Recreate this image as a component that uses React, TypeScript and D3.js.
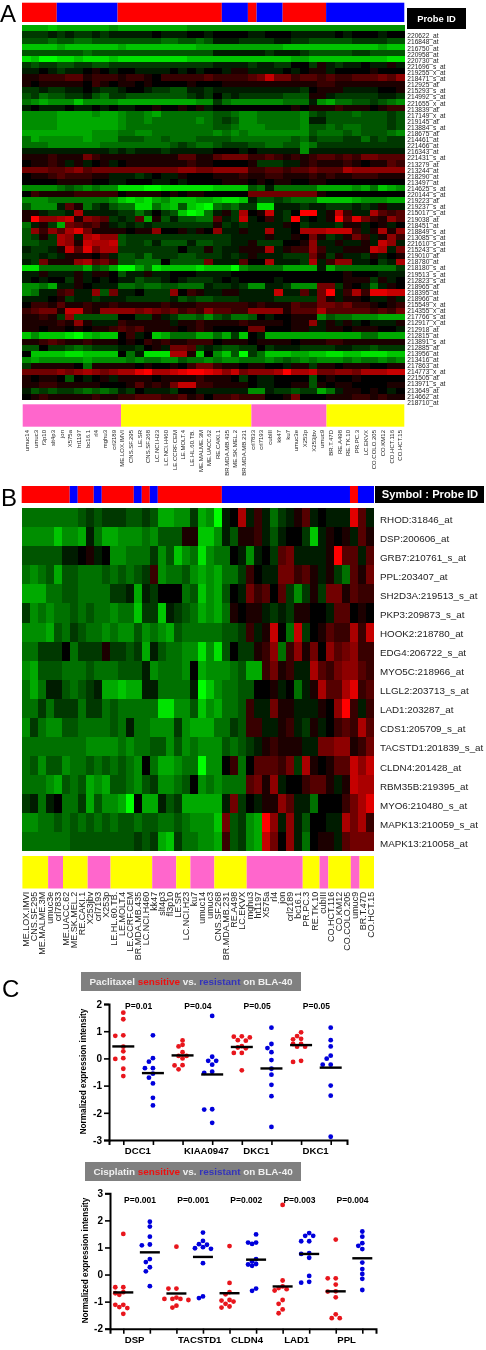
import React, { useEffect, useRef } from 'react';
import * as d3 from 'd3';

// heat map cells: a..i = green level 1..9, 0 = black, A..I = red level 1..9
// one string per row, split in four groups of 11 columns
const probesA = ['220622_at','216848_at','216750_at','220958_at','220730_at','221696_s_at','219255_x_at','218471_s_at','212925_at','215293_s_at','214992_s_at','221655_x_at','213839_at','217149_x_at','219145_at','213884_s_at','218675_at','214461_at','221466_at','216343_at','221431_s_at','213279_at','213244_at','218290_at','213497_at','214625_s_at','220144_s_at','219223_at','219237_s_at','215017_s_at','219038_at','218451_at','218849_s_at','213085_s_at','221610_s_at','215243_s_at','219010_at','218780_at','218180_s_at','219513_s_at','212823_s_at','218965_at','218395_at','218966_at','215549_x_at','214355_x_at','217766_s_at','212917_x_at','212918_at','212815_at','213891_s_at','212885_at','213956_at','213416_at','217863_at','214773_x_at','221505_at','213971_s_at','213649_at','214662_at','218710_at'];

const heatA = [
  'fffgffffffe ffffffffeee eeeeeeeeeee eeeeeeeeeee',
  'bbbababbaba aaaa0aaa00a 0000aa000aa aaa0a000a00',
  'cccdccddccc cccccddccdc aaabbbbaabb cccccbbbbcc',
  'ggggfgggggg fggggggggff ffffffffggg ggggggggfgg',
  'cccccccdccc ccccccccccc aaaaaabaaab cccccbbcccc',
  'hgiihhghhhg hhhhhhhhggg gggggggggff ggggggggghh',
  'bcbbccbbccb bbbbbbbbbbb aaaabaabb00 bAabaa0aaAa',
  'aa0abaa0A0a 00aaaa0a0a0 0aAAaaaa0a0 AAa0000A000',
  'AABBBCCABBB ABBA0BBBBBC BBBBCDGDDBC CBCBBCCCDCE',
  'A0AAAAA0BA0 AA0A0000A00 0AAAAAAAAAA ABBAAAAAAAA',
  'bbabbaa0abb a00abbccaab aaaaaaaaaab 0AAAaaaa00A',
  'cbdccbbacdb bcccccccbab 0babbbbbccc AAabbbbbaab',
  'defeeegeeee fffffffffee bdeeeeeeddd aefddccbcde',
  'a0aaa0aa0a0 aa00A00A0Aa 000000000A0 AAABAAA0ABB',
  'eeeeffffeff eddefdddddd ccdeeddddde cbcccdcccbc',
  'eeeefffffff eddeddddded cbceeddddde aacccccccbc',
  'eeeefffffff edddddddddd ccdeeedddde ccdcddcccbc',
  'ffffffffeee ddeeddddddd ededeeeeeee cdddcdcccde',
  'dfeeeeefeee cccddcdddcc ccdddddddcd bcccbbdbcbb',
  'dddeeeeeedd ddddddcbcdd cbbbccddcce dbbbbbbbbbb',
  'aaaaaaaaaab abaaabaaaaa 000a0aaaaae aaaaaaaaaaa',
  'AAABAAADBAA AAAAAAACCAA CDDDBBCBABA BCCBCBDDCCC',
  '0AABAaAa0Aa 0AAAAAAABAA 0000AbbbaaA BAAABA0AACB',
  'DDDCCDECDDD DDDDDDDEEDD EEEEBBCCBCC DCCCFEEEEEE',
  '0AABCBBBAAa aaba0aaA000 AAABAABBAAA BABAABBBAAA',
  '0000AAAA00a a000aa0a000 0AAA0A0AA00 AA000000000',
  'eeeedcdedee hhhiihhhhhh ggggcdadddd dffffefdgfe',
  '0BAAAABBBBB 0AAAA0A0AA0 0000DDDDDDD DA000000000',
  'eeeddddddde ghghfegggff ghhgaccbcdd dggggfeeeff',
  'ceeeaCAdbac ddhhdfgcghi dcdbbhhaaab aabbbabaAaa',
  'AAabbaFaaaa bbdb0bcgihd aAbF0AGab0I IaAGBaaFCBC',
  'AIEEFGAEDCb abCfAcaccdd CabGa0BabIa 0aAICHDBAEC',
  'daAbfDCBCAa bababbbbbbb AbabaaaaA0b aaabAAa0Aa0',
  'cEBECFHDAAA A0AAE00AaA0 EaaAaaFaa0F FFGGGBaAFAE',
  'cbAbFEaFGEE cbbbbbbbbbb bbaaaaAaaA0 DAbaADBaAEB',
  'ccbbFEAGFFG cbbcacccacc bbaaAbbb00A EaaAaaAaGEa',
  'abbaAGCHDFF bbbbbbb0bbA baaAAAFaABB EBaaAAAGFaD',
  'bbabaAAA0Ba ccbdbbbccbb babaAaaabbb DAbAaabAa0A',
  'abDAAAEFCDB ccddd0ccccD aaaC00Faaab FaBEEaa0baF',
  'hhdddddfcdf iifdhgggghg ggieddddfff fafdddddddb',
  'aaAaaaAaAA0 caaAaa000aa aa000000000 0000A000aaa',
  'a0a00bAa0a0 aacbba0abbb a0a0000a000 0000AAAbAa0',
  'eedfaaA0aaa ddcddccddda bbabeeaabee eDDbA0adaA0',
  'edaaBCaaEcD aa0bbbE0BAa aAAaaaaGaaC aDIaBFBHHGG',
  'aaa0Abaabaa abbbbbacbcc bbbaaaabbbb bDAaAA0aaAa',
  '0BBACAABAAB AAAAABAAABB BBBBABAAACB BDDCDBBA0AB',
  'BCDDAGGBAEE EEDEDCDBCBE CCBBEEEEACC CFCCCCCBCBD',
  'AABAbEccccc 00bbAabddce cbddc0a00AA Aecddeeefff',
  'AAAABAEAaaa BAAAAAaAABA AAABAAAA0AA EaAaAa0aaaA',
  'AA0AA0A0AAB CBCAAAA0ABA 0000DD000AA aaAA0AAA00a',
  'geggghigfgg 0Ba0gfdddff dfbg0afffff ffffffddfff',
  'AABCBAABAAA 0A0BABAABBB 0AAA0AAAA0A AABBAAAAAAA',
  'cc0bbcdcbbb aab0AaDDCba bccbb0baaab bbbaabbcbbb',
  '0gggghhgggg 0dahhhFFAg0 egcibdgggff gghhgghhhgg',
  'efeeeeefeee ededdeecdde deedddedcde deeededdede',
  'bAAAAA0dAAA AA0A00A0BDD BAA0AA00aAA bAA0AAA00AA',
  'DDDDEDEFEDE FFHIFFGHIIH GEGDEEEFIFF GDDEEDFFFGG',
  'A0AA0c0a0Aa AAAA0AAAABA AA0b0aa0000 c0A00A00000',
  'AABBAAAAA00 0ACABADGGBB AAAA0aa00AA cA0AA0000AA',
  'acbcbbcdcdc ab0aaab00aa aaaaeeabbcb bfdaAA0A0a0',
  '0ABAAAAABAA BBCCCBBCAB0 BBCBBB00AD0 00AAABBABAA',
];

const samplesA = ['umuc14','umuc3','f3p10','slt4p3','jon','X575a','ht1197','bc16.1','rl4','mghu3','crl2189','ME.LOX.IMVI','CNS.SF.295','LE.SR','CNS.SF.268','LC.NCI.H23','LC.NCI.H460','LE.CCRF.CEM','LE.MOLT.4','LE.HL.60.TB.','ME.MALME.3M','ME.UACC.62','RE.CAKI.1','BR.MDA.MB.435','ME.SK.MEL.2','BR.MDA.MB.231','crl7833','crl7193','cubIII','kk47','ku7','umuc3e','X253p','X253jbv','umuc9','BR.T.47D','RE.A498','RE.TK.10','PR.PC.3','LC.EKVX','CO.COLO.205','CO.KM12','CO.HCT.116','CO.HCT.15'];
const topRunsA = [4, 7, 12, 3, 1, 3, 5, 9];
const typeEdgesA = [0, 11.4, 26.4, 35.05, 44];

const probesB = ['RHOD:31846_at','DSP:200606_at','GRB7:210761_s_at','PPL:203407_at','SH2D3A:219513_s_at','PKP3:209873_s_at','HOOK2:218780_at','EDG4:206722_s_at','MYO5C:218966_at','LLGL2:203713_s_at','LAD1:203287_at','CDS1:205709_s_at','TACSTD1:201839_s_at','CLDN4:201428_at','RBM35B:219395_at','MYO6:210480_s_at','MAPK13:210059_s_at','MAPK13:210058_at'];

const heatB = [
  'dddddddcbcb bbccbcffeeb feia0FaBadb aACa0aaaHCa',
  'eeeegeefadf feeedecccAA ggeacAABaca 00bgaA0AaCA',
  'cccccaa0Aa0 eedddbecged hedd0aea0bC DaaaaAICCaC',
  'dedcfccdddc dcdcbBeddce fefddbB0aaD DBCAaAbdCAD',
  'fffddccdddd bbafab000dc gefc0aDBC0C bebAbDDACBB',
  'bededdcdcdd eddgbbgabcd fefdA0AAaba bAA00aCC0A0',
  'eeefcdbcdde deecedefcdd dddccbBaAG0 dGb0ACBBFBG',
  'ddbbb0dbbbA bbcbfacddee hehc0bbABEd BEAD0ECDEBB',
  'efcccdddcdd dcccaeddde0 feeedcffBDA BaaFCBDEECB',
  'dfdaacdcbaf fgffaadddda igeddcc00Aa 0daAFCCFHBC',
  'ddbdbbbdbbd cdddddhheec gefddcBaaDA AaaaA0EIBaB',
  'ebdeeccdddd cdaddeeebef ffddbcBBaaA BabAa0BCBFC',
  'ddddddddeee ededdcceced eeecdcbaABA AAaaDDEEABD',
  'dcecceddcdc dcde0dffedd iee0Bd0CCCB DbFA0ACCGEG',
  'dddefcdcfef ccdecbeedc0 ededddCDAEa 00BCCAaAGFF',
  'bada0ddbfce efi0ffacbff fffaDb0aAAE Caad000BDFH',
  'eeddcdcdcdc dccdccddcde eegDcbefIEa Eac00aaFDFB',
  'ddddddccccc cccbcbfgbdd eefBcbefGD0 Ead0AAaCDDD',
];

const samplesB = ['ME.LOX.IMVI','CNS.SF.295','ME.MALME.3M','umuc3e','crl7833','ME.UACC.62','ME.SK.MEL.2','RE.CAKI.1','X253jbv','crl7193','X253p','LE.HL.60.TB.','LE.MOLT.4','LE.CCRF.CEM','BR.MDA.MB.435','LC.NCI.H460','kk47','slt4p3','fl3p10','LE.SR','LC.NCI.H23','ku7','umuc14','umuc3','CNS.SF.268','BR.MDA.MB.231','RE.A498','LC.EKVX','mghu3','ht1197','X575a','rl4','jon','crl2189','bc16.1','PR.PC.3','RE.TK.10','cubIII','CO.HCT.116','CO.KM12','CO.COLO.205','umuc9','BR.T.47D','CO.HCT.15'];
const topRunsB = [6, 1, 2, 1, 4, 1, 1, 1, 8, 16, 1, 2];
const typeEdgesB = [0, 3.3, 5.16, 8.24, 11.1, 16.3, 19.3, 21.07, 24.06, 28.1, 35.1, 37.2, 38.3, 41.1, 42.2, 44];

// panel C, paclitaxel: pairs of sensitive / resistant columns
const genesP = ['DCC1', 'KIAA0947', 'DKC1', 'DKC1'];
const pValuesP = ['P=0.01', 'P=0.04', 'P=0.05', 'P=0.05'];
const valuesP = [
  [1.68, 1.44, 0.85, 0.83, 0.43, 0.26, 0.01, -0.02, -0.38, -0.65],
  [0.85, 0.01, -0.12, -0.36, -0.36, -0.56, -0.71, -0.92, -1.45, -1.73],
  [0.66, 0.5, 0.44, 0.23, 0.09, 0.09, 0, -0.25, -0.26, -0.4],
  [1.56, 0.06, -0.09, -0.09, -0.23, -0.49, -0.53, -1.87, -1.88, -2.37],
  [0.81, 0.8, 0.77, 0.67, 0.65, 0.45, 0.4, 0.37, 0.2, 0.2, -0.44],
  [1.13, 0.53, 0.38, 0.23, -0.06, -0.38, -0.6, -0.97, -1.39, -2.52],
  [0.96, 0.82, 0.72, 0.7, 0.53, 0.53, 0.43, 0.43, -0.09, -0.13],
  [1.13, 0.67, 0.44, 0.1, -0.01, -0.23, -0.23, -1.0, -1.37, -2.88],
];
const mediansP = [0.44, -0.54, 0.11, -0.59, 0.42, -0.37, 0.49, -0.34];

// panel C, cisplatin
const genesC = ['DSP', 'TACSTD1', 'CLDN4', 'LAD1', 'PPL'];
const pValuesC = ['P=0.001', 'P=0.001', 'P=0.002', 'P=0.003', 'P=0.004'];
const valuesC = [
  [1.5, -0.47, -0.47, -0.65, -0.69, -0.75, -1.12, -1.12, -1.2, -1.24, -1.45],
  [1.95, 1.77, 1.4, 1.11, 1.08, 0.57, 0.46, 0.27, 0.12, -0.43],
  [1.03, -0.52, -0.52, -0.85, -0.9, -0.9, -0.9, -0.94, -1.15, -1.22],
  [1.55, 1.24, 1.12, 1.1, 1.01, 0.97, 0.95, 0.42, -0.81, -0.87],
  [1.05, -0.31, -0.65, -0.73, -0.94, -0.96, -1.0, -1.08, -1.18, -1.22],
  [1.48, 1.18, 1.18, 1.13, 0.57, 0.48, 0.39, 0.37, 0.32, -0.52, -0.6],
  [2.57, -0.22, -0.44, -0.5, -0.54, -0.59, -0.94, -1.08, -1.29, -1.43],
  [1.53, 1.43, 1.43, 1.23, 1.23, 0.79, 0.76, 0.62, -0.05, -0.27, -0.3],
  [1.29, -0.14, -0.14, -0.37, -0.62, -0.63, -0.84, -1.47, -1.61, -1.61],
  [1.59, 1.4, 1.16, 1.06, 0.94, 0.44, 0.2, 0.02, -0.16, -0.57],
];
const mediansC = [-0.66, 0.82, -0.7, 0.65, -0.69, 0.55, -0.44, 0.76, -0.62, 0.6];

const font = '"Liberation Sans", Arial, sans-serif';
const RED = '#ff0000';
const BLUE = '#0000ff';
const PINK = '#ff66cc';
const YELLOW = '#ffff00';

const heatColor = d3.scaleLinear<string>().domain([-9, 0, 9]).range(['#00ff00', '#000000', '#ff0000']);

// one row string -> 44 numbers
function decodeRow(row: string): number[] {
  const out: number[] = [];
  row.trim().split(/\s+/).forEach((g) => {
    const fixed = g.slice(0, 11).padEnd(11, g[g.length - 1]);
    for (const ch of fixed) {
      if (ch >= 'a' && ch <= 'i') out.push(-(ch.charCodeAt(0) - 96));
      else if (ch >= 'A' && ch <= 'I') out.push(ch.charCodeAt(0) - 64);
      else out.push(0);
    }
  });
  return out.slice(0, 44);
}

function heatPanel(svg: any, o: any) {
  const { rows, probes, samples, topRuns, edges, firstPink, x0, x1, topY, heatY, typeY, rowLab, colTop, rowFont, colFont, rowX } = o;
  const x = d3.scaleBand<number>().domain(d3.range(44)).range([x0, x1]);
  const y = d3.scaleBand<number>().domain(d3.range(rows.length)).range(heatY);
  const xLin = d3.scaleLinear().domain([0, 44]).range([x0, x1]);

  // sensitive / resistant strip
  const cum = [0, ...d3.cumsum(topRuns)] as number[];
  svg.append('g').selectAll('rect').data(topRuns).join('rect')
    .attr('x', (_d: number, i: number) => xLin(cum[i]))
    .attr('width', (d: number, i: number) => xLin(cum[i] + d) - xLin(cum[i]))
    .attr('y', topY[0])
    .attr('height', topY[1] - topY[0])
    .attr('fill', (_d: number, i: number) => (i % 2 === 0 ? RED : BLUE));

  // cells
  const cells = rows.flatMap((r: string, i: number) => decodeRow(r).map((v, j) => ({ i, j, v })));
  svg.append('g').attr('shape-rendering', 'crispEdges').selectAll('rect').data(cells).join('rect')
    .attr('x', (d: any) => x(d.j))
    .attr('y', (d: any) => y(d.i))
    .attr('width', x.bandwidth() + 0.3)
    .attr('height', y.bandwidth() + 0.3)
    .attr('fill', (d: any) => heatColor(d.v));

  // bladder / other strip
  svg.append('g').selectAll('rect').data(edges.slice(1)).join('rect')
    .attr('x', (_d: number, i: number) => xLin(edges[i]) + (i === 0 ? 0.7 : 0))
    .attr('width', (d: number, i: number) => xLin(d) - xLin(edges[i]) - (i === 0 ? 0.7 : 0))
    .attr('y', typeY[0])
    .attr('height', typeY[1] - typeY[0])
    .attr('fill', (_d: number, i: number) => ((i % 2 === 0) === firstPink ? PINK : YELLOW));

  const labY = d3.scalePoint<string>().domain(probes).range(rowLab);
  svg.append('g').selectAll('text').data(probes).join('text')
    .attr('x', rowX)
    .attr('y', (d: string) => labY(d))
    .attr('dy', '0.35em')
    .attr('font-size', rowFont)
    .attr('fill', '#222')
    .text((d: string) => d);

  svg.append('g').selectAll('text').data(samples).join('text')
    .attr('transform', (_d: string, i: number) => `translate(${(x(i) as number) + x.bandwidth() / 2 + 0.4},${colTop}) rotate(-90)`)
    .attr('text-anchor', 'end')
    .attr('dy', '0.35em')
    .attr('font-size', colFont)
    .attr('fill', '#222')
    .text((d: string) => d);
}

// simple swarm: each dot takes the nearest free slot beside the centre line
function swarm(values: number[], y: (v: number) => number, step: number, dia: number) {
  const placed: { dx: number; cy: number }[] = [];
  values.forEach((v) => {
    const cy = y(v);
    for (const k of [0, -1, 1, -2, 2, -3, 3]) {
      const dx = k * step;
      if (placed.every((p) => Math.hypot(p.dx - dx, p.cy - cy) >= dia)) {
        placed.push({ dx, cy });
        break;
      }
    }
  });
  return placed;
}

function scatterPanel(svg: any, o: any) {
  const { title, box, values, medians, genes, pValues, yDomain, yRange, xRange, tickRange, pY, pDx, titleX, titleY, labelY, medianW } = o;
  const g = svg.append('g');

  // gray title box with coloured words
  g.append('rect').attr('x', box[0]).attr('y', box[1]).attr('width', box[2] - box[0]).attr('height', box[3] - box[1]).attr('fill', '#808080');
  const t = g.append('text').attr('x', (box[0] + box[2]) / 2).attr('y', (box[1] + box[3]) / 2).attr('dy', '0.35em')
    .attr('text-anchor', 'middle').attr('font-size', 9.9).attr('font-weight', 'bold');
  [[title + ' ', '#f0f0f0'], ['sensitive', '#ee1111'], [' vs. ', '#f0f0f0'], ['resistant', '#3333bb'], [' on BLA-40', '#f0f0f0']].forEach(([s, c]) => {
    t.append('tspan').attr('fill', c).text(s);
  });

  const y = d3.scaleLinear().domain(yDomain).range(yRange);
  const x = d3.scalePoint<number>().domain(d3.range(values.length)).range(tickRange);

  const left = g.append('g').attr('transform', `translate(${xRange[0]},0)`)
    .call(d3.axisLeft(y).tickValues(d3.range(yDomain[0], yDomain[1] + 1)).tickSize(5).tickPadding(2).tickFormat((d: any) => String(d)));
  const bottom = g.append('g').attr('transform', `translate(0,${yRange[0]})`)
    .call(d3.axisBottom(d3.scaleLinear().domain(xRange).range(xRange)).tickValues(values.map((_v: number[], i: number) => x(i) as number)).tickSize(5).tickFormat(() => ''));
  [left, bottom].forEach((a) => {
    a.selectAll('path').attr('stroke-width', 2).attr('stroke', '#000');
    a.selectAll('line').attr('stroke-width', 1.6).attr('stroke', '#000');
    a.selectAll('text').attr('font-family', font).attr('font-size', 10).attr('font-weight', 'bold').attr('fill', '#000');
  });

  g.append('text')
    .attr('transform', `translate(${titleX},${titleY}) rotate(-90)`)
    .attr('text-anchor', 'middle')
    .attr('font-size', 8.2)
    .attr('font-weight', 'bold')
    .text('Normalized expression intensity');

  values.forEach((vals: number[], i: number) => {
    const col = i % 2 === 0 ? '#e8141c' : '#0000dc';
    const cx = x(i) as number;
    g.append('g').selectAll('circle').data(swarm(vals, y, 4, 4.2)).join('circle')
      .attr('cx', (d: any) => cx + d.dx)
      .attr('cy', (d: any) => d.cy)
      .attr('r', 2.4)
      .attr('fill', col);
    g.append('line')
      .attr('x1', cx - medianW / 2).attr('x2', cx + medianW / 2)
      .attr('y1', y(medians[i])).attr('y2', y(medians[i]))
      .attr('stroke', '#000').attr('stroke-width', 2.4);
  });

  genes.forEach((gene: string, i: number) => {
    const first = x(i * 2) as number;
    const second = x(i * 2 + 1) as number;
    g.append('text').attr('x', first + 1.5).attr('y', labelY).attr('dy', '0.35em')
      .attr('font-size', 9.6).attr('font-weight', 'bold').text(gene);
    g.append('text').attr('x', (first + second) / 2 + pDx).attr('y', pY).attr('dy', '0.35em')
      .attr('text-anchor', 'middle').attr('font-size', 8.5).attr('font-weight', 'bold').text(pValues[i]);
  });
}

const App = () => {
  const svgRef = useRef<SVGSVGElement>(null);

  useEffect(() => {
    const svg = d3.select(svgRef.current);
    svg.selectAll('*').remove();

    const defs = svg.append('defs');
    defs.append('filter').attr('id', 'soft').attr('x', 0).attr('y', 0).attr('width', 1).attr('height', 1)
      .append('feGaussianBlur').attr('stdDeviation', 0.45);

    const root = svg.append('g').attr('font-family', font).attr('filter', 'url(#soft)');
    root.append('rect').attr('width', 486).attr('height', 1350).attr('fill', '#fff');

    heatPanel(root, {
      rows: heatA, probes: probesA, samples: samplesA, topRuns: topRunsA, edges: typeEdgesA, firstPink: true,
      x0: 22, x1: 404.3, topY: [2.7, 22], heatY: [25.3, 400], typeY: [404.3, 426.7],
      rowLab: [36, 402.5], colTop: 430, rowFont: 6.6, colFont: 6, rowX: 407.3,
    });
    heatPanel(root, {
      rows: heatB, probes: probesB, samples: samplesB, topRuns: topRunsB, edges: typeEdgesB, firstPink: false,
      x0: 21.7, x1: 374, topY: [486, 503], heatY: [508.3, 851], typeY: [856, 888.5],
      rowLab: [519.5, 843.3], colTop: 891.7, rowFont: 9.8, colFont: 9, rowX: 380,
    });

    // black header boxes
    root.append('rect').attr('x', 407).attr('y', 8).attr('width', 59).attr('height', 21).attr('fill', '#000');
    root.append('text').attr('x', 436.5).attr('y', 18.5).attr('dy', '0.35em').attr('text-anchor', 'middle')
      .attr('font-size', 9.4).attr('font-weight', 'bold').attr('fill', '#fff').text('Probe ID');
    root.append('rect').attr('x', 375).attr('y', 486).attr('width', 109).attr('height', 17).attr('fill', '#000');
    root.append('text').attr('x', 430).attr('y', 494.5).attr('dy', '0.35em').attr('text-anchor', 'middle')
      .attr('font-size', 11.2).attr('font-weight', 'bold').attr('fill', '#fff').text('Symbol : Probe ID');

    // panel letters
    [['A', 0, 22], ['B', 1, 506], ['C', 2, 997]].forEach(([s, px, py]) => {
      root.append('text').attr('x', px).attr('y', py).attr('font-size', 24).text(s as string);
    });

    scatterPanel(root, {
      title: 'Paclitaxel', box: [81, 972, 301, 991], values: valuesP, medians: mediansP, genes: genesP, pValues: pValuesP,
      yDomain: [-3, 2], yRange: [1140, 1004], xRange: [109, 347], tickRange: [123.3, 330.7],
      pY: 1006, pDx: 0.5, titleX: 86, titleY: 1071.5, labelY: 1150.5, medianW: 22,
    });
    scatterPanel(root, {
      title: 'Cisplatin', box: [85, 1162, 301, 1181], values: valuesC, medians: mediansC, genes: genesC, pValues: pValuesC,
      yDomain: [-2, 3], yRange: [1328.7, 1193.3], xRange: [110, 376], tickRange: [123.3, 362.3],
      pY: 1199.7, pDx: 3.5, titleX: 88, titleY: 1260.5, labelY: 1340, medianW: 20,
    });
  }, []);

  return <svg ref={svgRef} width={486} height={1350} style={{ position: 'absolute', left: 0, top: 0, display: 'block' }} />;
};

export default App;
